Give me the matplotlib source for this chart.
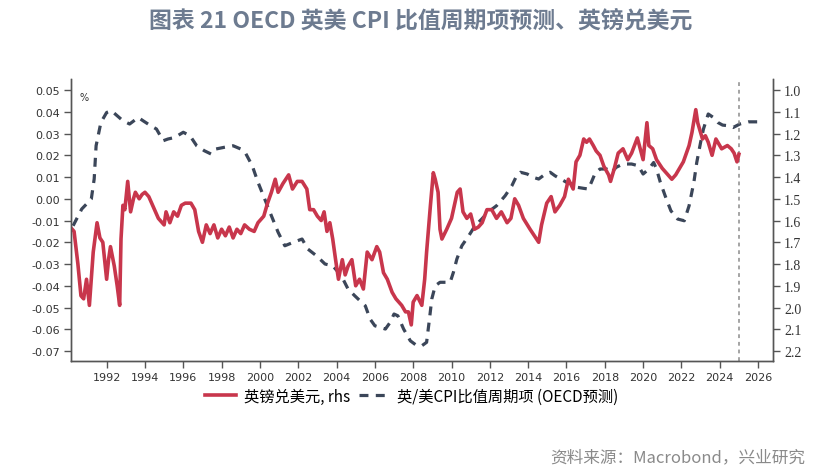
import matplotlib
matplotlib.use("Agg")
import matplotlib.pyplot as plt
from matplotlib.lines import Line2D

plt.rcParams['font.family'] = ['Noto Sans CJK SC', 'DejaVu Sans']

# 英镑兑美元 (rhs, 倒序)
gbp_years = [
    1990.1, 1990.3, 1990.5, 1990.66, 1990.8, 1990.95, 1991.1, 1991.3, 1991.5, 1991.65,
    1991.8, 1992.0, 1992.1, 1992.2, 1992.4, 1992.55, 1992.68, 1992.75, 1992.85, 1992.95,
    1993.1, 1993.25, 1993.4, 1993.5, 1993.7, 1993.85, 1994.0, 1994.2, 1994.5, 1994.7,
    1995.0, 1995.1, 1995.3, 1995.5, 1995.7, 1995.9, 1996.1, 1996.4, 1996.6, 1996.8,
    1997.0, 1997.2, 1997.4, 1997.6, 1997.8, 1998.0, 1998.2, 1998.4, 1998.6, 1998.8,
    1999.0, 1999.2, 1999.45, 1999.7, 1999.9, 2000.2, 2000.4, 2000.6, 2000.8, 2000.95,
    2001.2, 2001.5, 2001.7, 2001.95, 2002.2, 2002.45, 2002.6, 2002.8, 2003.0, 2003.2,
    2003.35, 2003.5, 2003.65, 2003.8, 2003.95, 2004.1, 2004.3, 2004.45, 2004.6, 2004.8,
    2005.0, 2005.2, 2005.4, 2005.6, 2005.85, 2006.1, 2006.25, 2006.45, 2006.65, 2006.9,
    2007.1, 2007.4, 2007.6, 2007.75, 2007.9, 2008.0, 2008.2, 2008.45, 2008.6, 2008.7,
    2008.9, 2009.05, 2009.15, 2009.3, 2009.4, 2009.5, 2009.75, 2010.0, 2010.3, 2010.45,
    2010.6, 2010.8, 2011.0, 2011.2, 2011.4, 2011.6, 2011.85, 2012.1, 2012.35, 2012.6,
    2012.9, 2013.1, 2013.3, 2013.5, 2013.75, 2014.1, 2014.55, 2014.7, 2014.97, 2015.2,
    2015.4, 2015.65, 2015.9, 2016.1, 2016.35, 2016.5, 2016.7, 2016.9, 2017.05, 2017.2,
    2017.4, 2017.55, 2017.75, 2017.95, 2018.2, 2018.3, 2018.5, 2018.7, 2018.95, 2019.2,
    2019.4, 2019.7, 2019.85, 2020.0, 2020.2, 2020.3, 2020.5, 2020.7, 2021.0, 2021.3,
    2021.5, 2021.7, 2021.9, 2022.1, 2022.4, 2022.55, 2022.75, 2022.85, 2023.1, 2023.25,
    2023.4, 2023.6, 2023.8, 2024.1, 2024.4, 2024.6, 2024.75, 2024.9, 2025.0,
]
gbp_values = [
    1.63, 1.65, 1.80, 1.946, 1.96, 1.87, 1.99, 1.745, 1.61, 1.68,
    1.70, 1.87, 1.78, 1.72, 1.81, 1.90, 1.99, 1.685, 1.53, 1.55,
    1.42, 1.56, 1.50, 1.47, 1.50, 1.48, 1.47, 1.49, 1.55, 1.59,
    1.62, 1.56, 1.61, 1.56, 1.58, 1.53, 1.52, 1.52, 1.55, 1.65,
    1.70, 1.62, 1.66, 1.62, 1.68, 1.64, 1.67, 1.63, 1.68, 1.64,
    1.66, 1.62, 1.64, 1.65, 1.61, 1.58, 1.52, 1.47, 1.41, 1.47,
    1.43, 1.39, 1.455, 1.42, 1.42, 1.455, 1.55, 1.55, 1.58, 1.60,
    1.56, 1.65, 1.61, 1.685, 1.78, 1.87, 1.78, 1.85, 1.81, 1.78,
    1.90, 1.87, 1.915, 1.745, 1.78, 1.72, 1.745, 1.84, 1.87, 1.93,
    1.96, 1.99, 2.02, 2.02, 2.08, 1.975, 1.945, 1.99, 1.87, 1.745,
    1.53, 1.38, 1.41, 1.47, 1.64, 1.685, 1.64, 1.59, 1.47, 1.455,
    1.56, 1.59, 1.57, 1.64, 1.63, 1.61, 1.55, 1.55, 1.59, 1.56,
    1.61, 1.59, 1.50, 1.53, 1.59, 1.64, 1.70, 1.62, 1.52, 1.49,
    1.56, 1.53, 1.49, 1.41, 1.455, 1.33, 1.30, 1.225, 1.24, 1.225,
    1.255, 1.28, 1.30, 1.35, 1.39, 1.42, 1.36, 1.29, 1.27, 1.32,
    1.29, 1.22, 1.27, 1.32, 1.15, 1.255, 1.27, 1.32, 1.36, 1.39,
    1.41, 1.39, 1.36, 1.33, 1.255, 1.195, 1.09, 1.15, 1.225, 1.21,
    1.24, 1.30, 1.225, 1.27, 1.255, 1.27, 1.29, 1.33, 1.295,
]

# 英/美CPI比值周期项 (OECD预测), %
cpi_years = [
    1990.25, 1990.7, 1991.2, 1991.35, 1991.45, 1991.7, 1992.0, 1992.25, 1992.55, 1992.85,
    1993.2, 1993.65, 1993.9, 1994.3, 1994.6, 1994.95, 1995.2, 1995.55, 1996.0, 1996.35,
    1996.7, 1997.1, 1997.45, 1997.7, 1998.15, 1998.6, 1999.0, 1999.25, 1999.6, 1999.9,
    2000.25, 2000.6, 2000.95, 2001.3, 2001.75, 2002.2, 2002.5, 2002.95, 2003.4, 2003.8,
    2004.25, 2004.6, 2004.95, 2005.5, 2005.75, 2006.0, 2006.55, 2006.8, 2007.0, 2007.2,
    2007.5, 2007.85, 2008.2, 2008.45, 2008.7, 2008.85, 2008.97, 2009.15, 2009.4, 2009.93,
    2010.1, 2010.28, 2010.54, 2010.9, 2011.23, 2011.58, 2011.9, 2012.35, 2012.8, 2013.15,
    2013.4, 2013.6, 2013.95, 2014.25, 2014.55, 2014.9, 2015.15, 2015.4, 2015.7, 2016.0,
    2016.3, 2016.55, 2016.9, 2017.15, 2017.3, 2017.5, 2017.75, 2018.1, 2018.35, 2018.6,
    2018.95, 2019.4, 2019.75, 2020.0, 2020.3, 2020.55, 2020.7, 2020.9, 2021.15, 2021.45,
    2021.8, 2022.15, 2022.4, 2022.65, 2022.8, 2023.0, 2023.15, 2023.4, 2023.65, 2023.9,
    2024.15, 2024.45, 2024.7, 2025.05, 2025.5, 2026.0,
]
cpi_values = [
    -0.0124, -0.0047, -0.0001, 0.0091, 0.0244, 0.0351, 0.0397, 0.0405, 0.0382, 0.0359,
    0.0344, 0.0374, 0.0359, 0.0336, 0.0321, 0.0267, 0.0275, 0.0282, 0.0306, 0.0290,
    0.0244, 0.0221, 0.0206, 0.0229, 0.0237, 0.0244, 0.0229, 0.0210, 0.0152, 0.0076,
    -0.0001, -0.0078, -0.0154, -0.0216, -0.0200, -0.0185, -0.0231, -0.0262, -0.0300, -0.0308,
    -0.0354, -0.0415, -0.0446, -0.0492, -0.0553, -0.0584, -0.0599, -0.0568, -0.0530, -0.0538,
    -0.0599, -0.0653, -0.0676, -0.0676, -0.0660, -0.0553, -0.0461, -0.0400, -0.0384, -0.0384,
    -0.0338, -0.0277, -0.0216, -0.0170, -0.0124, -0.0093, -0.0062, -0.0032, 0.0014, 0.0060,
    0.0106, 0.0122, 0.0114, 0.0099, 0.0091, 0.0114, 0.0122, 0.0106, 0.0091, 0.0076,
    0.0068, 0.0053, 0.0048, 0.0045, 0.0076, 0.0118, 0.0137, 0.0137, 0.0122, 0.0145,
    0.0160, 0.0160, 0.0152, 0.0114, 0.0137, 0.0167, 0.0137, 0.0076, 0.0014, -0.0055,
    -0.0093, -0.0101, -0.0032, 0.0076, 0.0167, 0.0259, 0.0321, 0.0390, 0.0375, 0.0351,
    0.0339, 0.0336, 0.0328, 0.0344, 0.0354, 0.0354,
]

left_ticks = [0.05, 0.04, 0.03, 0.02, 0.01, 0.0, -0.01, -0.02, -0.03, -0.04, -0.05, -0.06, -0.07]
right_ticks = [1.0, 1.1, 1.2, 1.3, 1.4, 1.5, 1.6, 1.7, 1.8, 1.9, 2.0, 2.1, 2.2]
year_ticks = list(range(1992, 2027, 2))
forecast_start = 2025.0

RED = '#C8364C'
NAVY = '#3B4659'
AXIS = '#555555'

fig = plt.figure(figsize=(8.39, 4.77), dpi=100)
ax = fig.add_axes([71 / 839, 1 - 362 / 477, 702 / 839, 282 / 477])
ax2 = ax.twinx()

ax.plot(cpi_years, cpi_values, color=NAVY, lw=2.3, linestyle=(0, (2.8, 2.3)))
ax2.plot(gbp_years, gbp_values, color=RED, lw=2.6)
ax.axvline(forecast_start, color='#8C8C8C', lw=1.1, linestyle=(0, (2.5, 2.5)))

ax.set_xlim(1990.14, 2026.78)
ax.set_ylim(-0.0746, 0.0551)
ax2.set_ylim(2.246, 0.949)

ax.set_xticks(year_ticks)
ax.set_xticklabels([str(y) for y in year_ticks], family='DejaVu Sans', fontsize=8, color='#333333')
ax.set_yticks(left_ticks)
ax.set_yticklabels([f'{v:.2f}' for v in left_ticks], family='DejaVu Sans', fontsize=8, color='#333333')
ax2.set_yticks(right_ticks)
ax2.set_yticklabels([f'{v:.1f}' for v in right_ticks], family='Liberation Serif', fontsize=10, color='#333333')

for a in (ax, ax2):
    a.spines['top'].set_visible(False)
    for s in ('left', 'right', 'bottom'):
        a.spines[s].set_color(AXIS)
        a.spines[s].set_linewidth(1.0)
    a.tick_params(colors=AXIS, length=5, width=1.0, pad=3, labelcolor='#333333')

ax.text(0.012, 0.955, '%', transform=ax.transAxes, fontsize=7, color='#333333',
        family='DejaVu Sans', va='top', ha='left')

fig.text(421 / 839, 1 - 22 / 477, '图表 21 OECD 英美 CPI 比值周期项预测、英镑兑美元',
         ha='center', va='center', fontsize=16.5, fontweight='bold', color='#6D7B90')

handles = [
    Line2D([], [], color=RED, lw=2.6),
    Line2D([], [], color=NAVY, lw=2.3, linestyle=(0, (2.8, 2.3))),
]
labels = ['英镑兑美元, rhs', '英/美CPI比值周期项 (OECD预测)']
fig.legend(handles, labels, loc='center', bbox_to_anchor=(412 / 839, 1 - 397 / 477),
           ncol=2, frameon=False, fontsize=11, handlelength=2.0, columnspacing=0.6,
           handletextpad=0.5)

fig.text(805 / 839, 1 - 458 / 477, '资料来源：Macrobond，兴业研究', ha='right', va='center',
         fontsize=12, color='#8A8A8A')

fig.savefig('out.png', dpi=100)
